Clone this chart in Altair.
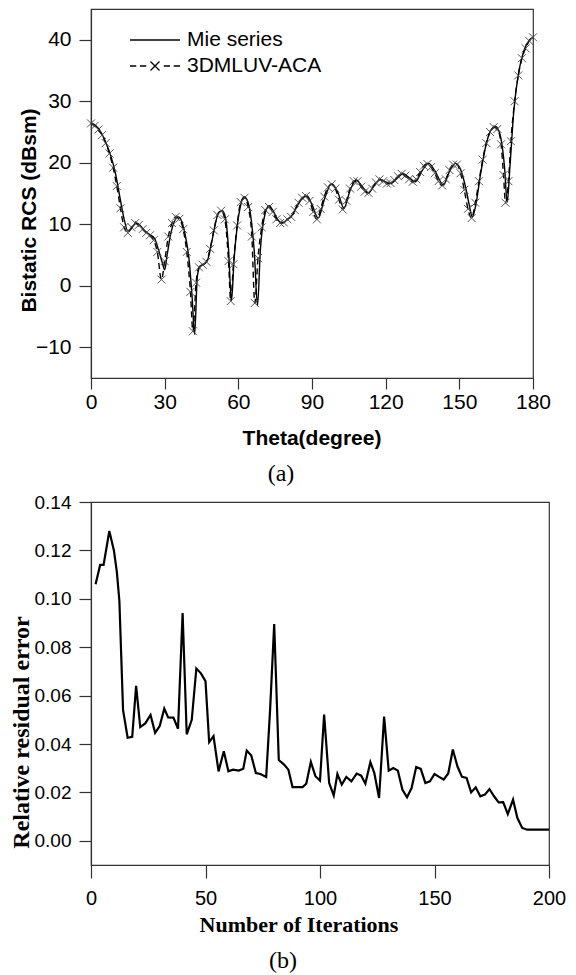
import altair as alt
import pandas as pd

# ---------------- Panel (a): bistatic RCS ----------------
mie_theta = [0, 2, 4, 6, 8, 10, 12, 13.5, 15, 16.5,
             18.5, 20, 22, 24, 26, 27.5, 29, 30, 31, 32.5,
             34, 35.5, 37, 38.5, 40, 41.2, 42.2, 43.3, 44.5, 46,
             47.5, 49, 50.5, 52, 53.5, 55, 56, 57.2, 58.3, 59.5,
             61, 62.3, 63.5, 65, 66.5, 67.8, 69, 70.5, 72.5, 74,
             76, 78, 80, 82, 84, 86, 88, 90, 92.5, 95,
             98, 100.5, 103, 105.5, 108, 110.5, 113, 115.5, 118, 120,
             122, 124.5, 127, 129.5, 132, 135, 137.5, 140, 143.5, 146,
             148.5, 150.5, 152.5, 154, 155.3, 156.6, 158.7, 160.7, 162.7, 164.8,
             166.8, 168.4, 169.5, 170.6, 172.2, 174.3, 176.3, 178.4, 180]
mie_rcs = [26.5, 26.0, 25.0, 23.3, 21.2, 18.2, 13.9, 10.8, 8.9, 9.4,
           10.2, 9.8, 8.9, 8.3, 7.6, 5.8, 3.8, 2.6, 5.0, 8.5,
           10.5, 11.2, 10.4, 8.0, 4.0, -2.0, -7.9, 1.5, 3.2, 3.5,
           4.2, 6.8, 9.8, 11.9, 12.2, 10.5, 6.0, -2.4, 4.5, 9.5,
           13.2, 14.5, 14.0, 11.5, 5.5, -3.2, 6.0, 11.0, 13.0, 12.3,
           10.8, 10.2, 10.8, 11.5, 13.0, 14.2, 14.6, 13.2, 11.0, 14.0,
           16.6, 15.2, 12.6, 15.5, 17.2, 16.1, 15.1, 16.4, 17.3, 16.9,
           16.6, 17.4, 18.2, 17.6, 16.9, 18.8, 19.9, 18.7, 16.4, 18.6,
           19.9, 18.9, 16.1, 13.2, 11.2, 12.9, 18.3, 22.6, 25.2, 25.9,
           24.2, 19.3, 13.6, 19.3, 28.5, 35.0, 38.2, 39.9, 40.4]

aca_theta = [0, 1.5, 3, 4.5, 6, 7.5, 9, 10.5, 12, 13.5,
             15, 16.5, 18, 19.5, 21, 22.5, 24, 25.5, 27, 28.7,
             30, 31.5, 33, 34.5, 36, 37.5, 39, 40.5, 41.5, 42.8,
             44, 45.5, 47, 48.5, 50, 51.5, 53, 54.5, 56, 56.9,
             58, 59.5, 61, 62.5, 64, 65.5, 66.7, 68, 69.5, 71,
             72.5, 74, 75.5, 77, 78.5, 80, 81.5, 83, 84.5, 86,
             87.5, 89, 90.5, 92, 93.5, 95, 96.5, 98, 99.5, 101,
             102.5, 104, 105.5, 107, 108.5, 110, 111.5, 113, 114.5, 116,
             117.5, 119, 120.5, 122, 123.5, 125, 126.5, 128, 129.5, 131,
             132.5, 134, 135.5, 137, 138.5, 140, 141.5, 143, 144.5, 146,
             147.5, 149, 150.5, 152, 153.5, 155, 156.5, 158, 159.5, 161,
             162.5, 164, 165.5, 167, 168, 168.8, 170, 171, 172.5, 174,
             175.5, 177, 178.5, 180]
aca_rcs = [26.4, 26.0, 25.4, 24.5, 23.2, 21.5, 19.2, 16.2, 12.6, 9.5,
           8.6, 9.5, 10.2, 9.9, 9.2, 8.6, 8.2, 7.4, 5.5, 1.0,
           4.0, 8.0, 10.2, 11.2, 10.9, 9.2, 5.5, -1.0, -7.4, 0.5,
           3.0, 3.4, 3.9, 6.0, 9.0, 11.5, 12.2, 10.8, 4.0, -2.5,
           3.5, 9.8, 13.6, 14.3, 12.8, 8.0, -2.8, 4.5, 9.5, 12.3,
           12.8, 12.0, 10.8, 10.2, 10.3, 10.8, 11.2, 12.3, 13.5, 14.3,
           14.6, 13.8, 12.0, 10.8, 12.5, 14.5, 16.0, 16.5, 15.8, 14.0,
           12.4, 13.8, 15.8, 17.0, 17.0, 16.1, 15.3, 15.1, 15.8, 16.8,
           17.3, 17.0, 16.6, 16.7, 17.2, 17.8, 18.2, 17.9, 17.3, 16.9,
           17.3, 18.5, 19.5, 19.8, 19.3, 18.3, 17.0, 16.3, 17.3, 18.8,
           19.7, 19.7, 18.3, 15.6, 12.5, 11.0, 13.5, 17.0, 20.5, 23.2,
           25.0, 25.8, 25.5, 23.0, 18.0, 13.5, 17.0, 23.5, 30.0, 34.2,
           37.0, 38.6, 39.8, 40.4]

series_names = ["Mie series", "3DMLUV-ACA"]
theta_ticks = [0, 30, 60, 90, 120, 150, 180]
rcs_ticks = [-10, 0, 10, 20, 30, 40]

# ---------------- Panel (b): residual error ----------------
iters = [2, 4, 5.5, 8, 10, 11.3, 12.4, 14, 16, 18,
         19.7, 21.5, 23.7, 26, 28, 30, 32, 33.7, 36, 38,
         40, 41.8, 44, 46, 48, 50, 51.6, 53.5, 55.7, 58,
         60, 62, 64.5, 66.5, 68, 70, 72, 74, 76.5, 78.2,
         80, 82, 84.2, 86.2, 88, 90, 92.4, 94, 96, 98,
         100, 101.8, 104, 106, 107.6, 109.5, 111.5, 113.7, 116, 118,
         119.8, 122, 123.7, 125.8, 128, 130, 132, 134, 136, 138,
         140, 142, 144, 146, 148, 150, 152, 154, 156, 158,
         160, 162, 164, 166, 168, 170, 172, 174, 176, 178,
         180, 182, 184.3, 186.2, 188.3, 190.5, 196, 200]
resid = [0.106, 0.114, 0.114, 0.128, 0.120, 0.111, 0.099, 0.054, 0.0426, 0.043,
         0.064, 0.047, 0.0485, 0.052, 0.0446, 0.0474, 0.0546, 0.051, 0.0509, 0.0463,
         0.0941, 0.044, 0.050, 0.0712, 0.0692, 0.066, 0.0408, 0.0433, 0.0287, 0.037,
         0.0287, 0.0294, 0.029, 0.0298, 0.0373, 0.0352, 0.028, 0.0276, 0.0264, 0.054,
         0.0896, 0.0334, 0.0316, 0.0294, 0.0222, 0.0222, 0.0222, 0.0236, 0.0326, 0.0267,
         0.0249, 0.0522, 0.0239, 0.0187, 0.0276, 0.0232, 0.0264, 0.0246, 0.0278, 0.0269,
         0.0236, 0.0325, 0.0281, 0.0177, 0.0513, 0.029, 0.0301, 0.029, 0.0211, 0.018,
         0.0218, 0.0305, 0.0297, 0.0239, 0.0246, 0.0276, 0.0264, 0.0253, 0.0278, 0.0377,
         0.0308, 0.0264, 0.026, 0.020, 0.0221, 0.0184, 0.0191, 0.0214, 0.0184, 0.0159,
         0.016, 0.011, 0.017, 0.0094, 0.0053, 0.0046, 0.0046, 0.0046]
iter_ticks = [0, 50, 100, 150, 200]
resid_ticks = [0.0, 0.02, 0.04, 0.06, 0.08, 0.10, 0.12, 0.14]

mie_df = pd.DataFrame({"theta": mie_theta, "rcs": mie_rcs, "series": series_names[0]})
aca_df = pd.DataFrame({"theta": aca_theta, "rcs": aca_rcs, "series": series_names[1]})
both_df = pd.concat([mie_df, aca_df], ignore_index=True)
res_df = pd.DataFrame({"iter": iters, "err": resid})

SANS = "Liberation Sans"
SERIF = "Liberation Serif"
CROSS = "M-1,-1L1,1M-1,1L1,-1"
LEG_SOLID = "M-2,0L2,0"
LEG_DASH = ("M-2,0L-1.5,0M-1.2,0L-0.7,0M0.7,0L1.2,0M1.5,0L2,0"
            "M-0.36,-0.36L0.36,0.36M-0.36,0.36L0.36,-0.36")

x_top = alt.X("theta:Q",
              scale=alt.Scale(domain=[0, 180], nice=False, zero=False),
              axis=alt.Axis(values=theta_ticks, title="Theta(degree)", grid=False,
                            labelFlush=False,
                            labelFont=SANS, labelFontSize=21, labelPadding=2, tickSize=11,
                            titleFont=SANS, titleFontSize=21, titleFontWeight="bold",
                            titleX=220.5, titleY=60, titleBaseline="middle", titleAlign="center"))
y_top = alt.Y("rcs:Q",
              scale=alt.Scale(domain=[-15, 45], nice=False, zero=False),
              axis=alt.Axis(values=rcs_ticks, title="Bistatic RCS (dBsm)", grid=False,
                            labelFlush=False,
                            labelFont=SANS, labelFontSize=21, labelPadding=8, tickSize=12,
                            titleFont=SANS, titleFontSize=21, titleFontWeight="bold",
                            titleAngle=270, titleX=-62, titleY=201,
                            titleBaseline="middle", titleAlign="center"))

mie_line = alt.Chart(mie_df).mark_line(color="black", strokeWidth=1.4, interpolate="monotone").encode(
    x=x_top, y=y_top)
aca_line = alt.Chart(aca_df).mark_line(color="black", strokeWidth=1.4, strokeDash=[6, 4],
                                       interpolate="monotone").encode(x="theta:Q", y="rcs:Q")
aca_pts = alt.Chart(aca_df).mark_point(shape=CROSS, size=64, filled=False, color="#444",
                                       strokeWidth=0.9, opacity=1).encode(x="theta:Q", y="rcs:Q")
legend_layer = alt.Chart(both_df).mark_point(opacity=0, filled=False, color="black").encode(
    x="theta:Q", y="rcs:Q",
    shape=alt.Shape("series:N",
                    scale=alt.Scale(domain=series_names, range=[LEG_SOLID, LEG_DASH]),
                    legend=alt.Legend(title=None, orient="none", legendX=50.5, legendY=17.5,
                                      symbolSize=625, symbolStrokeWidth=1.3,
                                      symbolStrokeColor="black", symbolOpacity=1,
                                      labelFont=SANS, labelFontSize=21, labelColor="black",
                                      labelOffset=18.5, labelLimit=400, rowPadding=2,
                                      padding=0)))

top = alt.layer(mie_line, aca_line, aca_pts, legend_layer).properties(
    width=442, height=369,
    title=alt.TitleParams("(a)", orient="bottom", frame="group", anchor="middle",
                          font=SERIF, fontSize=24, fontWeight="normal", color="black",
                          dx=-31, offset=14))

bottom = alt.Chart(res_df).mark_line(color="black", strokeWidth=2.2).encode(
    x=alt.X("iter:Q", scale=alt.Scale(domain=[0, 200], nice=False, zero=False),
            axis=alt.Axis(values=iter_ticks, title="Number of Iterations", grid=False,
                          labelFlush=False,
                          labelFont=SANS, labelFontSize=20, labelPadding=10, tickSize=13,
                          titleFont=SERIF, titleFontSize=22, titleFontWeight="bold",
                          titleX=207.5, titleY=59, titleBaseline="middle", titleAlign="center")),
    y=alt.Y("err:Q", scale=alt.Scale(domain=[-0.01, 0.14], nice=False, zero=False),
            axis=alt.Axis(values=resid_ticks, format=".2f", title="Relative residual error",
                          grid=False, labelFlush=False, labelFont=SANS, labelFontSize=19,
                          labelPadding=8, tickSize=12, titleFont=SERIF, titleFontSize=24,
                          titleFontWeight="bold", titleAngle=270, titleX=-70, titleY=230,
                          titleBaseline="middle", titleAlign="center")),
).properties(
    width=458, height=363,
    title=alt.TitleParams("(b)", orient="bottom", frame="group", anchor="middle",
                          font=SERIF, fontSize=24, fontWeight="normal", color="black",
                          dx=-37, offset=14))

chart = alt.vconcat(top, bottom, spacing=5).properties(
    padding=0, background="white"
).configure_view(
    stroke="#333", strokeWidth=1.2
).configure_axis(
    domainColor="#333", domainWidth=1.2, tickColor="#333", tickWidth=1.2,
    labelColor="black", titleColor="black"
)

chart.save("out.html", embed_options={"renderer": "svg", "actions": False})
